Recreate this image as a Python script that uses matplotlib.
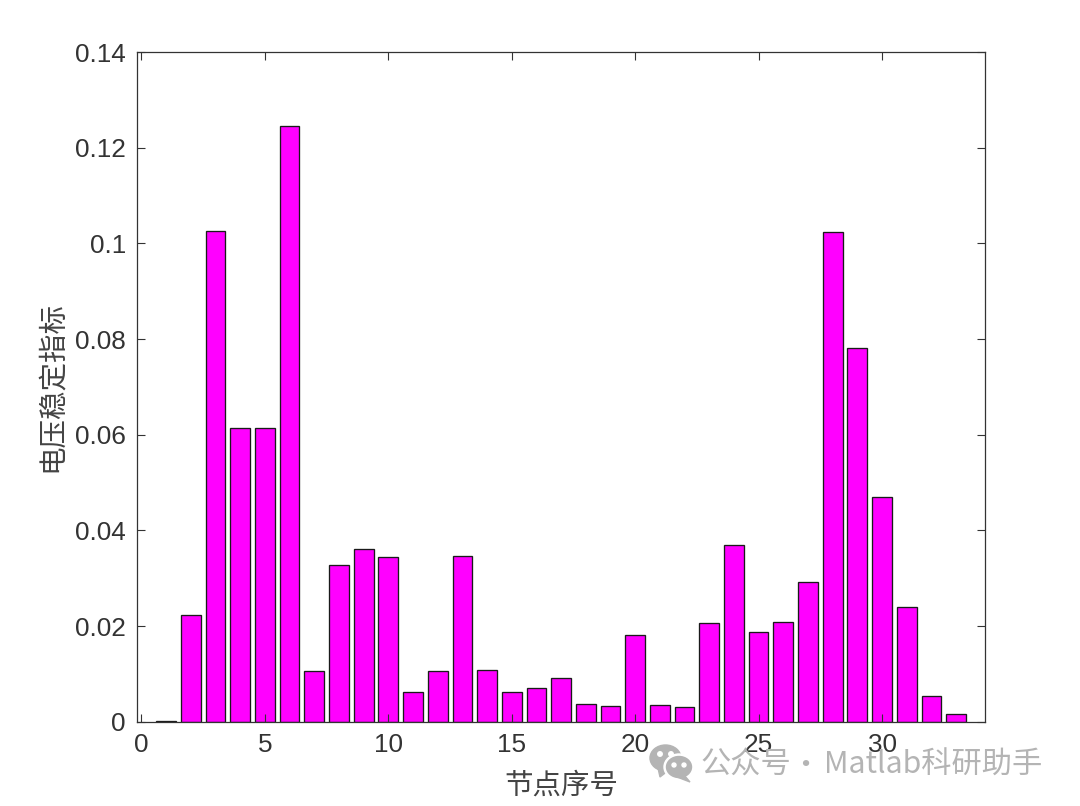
import matplotlib
matplotlib.use("Agg")
import matplotlib.pyplot as plt
from matplotlib.patches import Ellipse, Polygon

node_ids = list(range(1, 34))
stability_index = [
    0.0002, 0.0223, 0.1026, 0.0614, 0.0614, 0.1246, 0.0107, 0.0328, 0.0361,
    0.0344, 0.0063, 0.0105, 0.0347, 0.0109, 0.0063, 0.0071, 0.0091, 0.0036,
    0.0032, 0.0181, 0.0034, 0.0030, 0.0206, 0.0369, 0.0187, 0.0208, 0.0293,
    0.1023, 0.0782, 0.0469, 0.0239, 0.0053, 0.0016,
]
x_ticks = [0, 5, 10, 15, 20, 25, 30]
y_ticks = [0, 0.02, 0.04, 0.06, 0.08, 0.1, 0.12, 0.14]
y_tick_labels = ["0", "0.02", "0.04", "0.06", "0.08", "0.1", "0.12", "0.14"]

W, H = 1080, 806
plt.rcParams["font.family"] = ["Liberation Sans", "Noto Sans CJK SC", "DejaVu Sans"]
cjk = ["Noto Sans CJK SC", "DejaVu Sans"]

fig = plt.figure(figsize=(W / 100, H / 100), dpi=100)
ax = fig.add_axes([137 / W, 1 - 721.7 / H, (985 - 137) / W, (721.7 - 52) / H])

ax.bar(node_ids, stability_index, width=0.8, color="#ff00ff", edgecolor="#1a1a1a", linewidth=0.95)
ax.set_xlim(-0.18, 34.17)
ax.set_ylim(0, 0.14)
ax.set_xticks(x_ticks)
ax.set_yticks(y_ticks)
ax.set_yticklabels(y_tick_labels)
ax.tick_params(direction="in", top=True, right=True, length=5.8, width=0.8,
               color="#333333", labelsize=18.8, labelcolor="#333333")
ax.tick_params(axis="x", pad=8)
ax.tick_params(axis="y", pad=8)
for spine in ax.spines.values():
    spine.set_linewidth(0.9)
    spine.set_color("#333333")
ax.set_axisbelow(False)

# labels sit at fixed pixel spots, same as the picture
fig.text(561 / W, 1 - 786 / H, "节点序号", fontsize=20.5, color="#444444",
         ha="center", va="center", family=cjk)
fig.text(52 / W, 1 - 386 / H, "电压稳定指标", fontsize=20.5, color="#444444", rotation=90,
         ha="center", va="center", family=cjk)

# ── watermark overlay, in pixel coordinates ──
over = fig.add_axes([0, 0, 1, 1], facecolor="none")
over.set_xlim(0, W)
over.set_ylim(H, 0)
over.axis("off")
grey = "#b4b4b4"
over.add_patch(Ellipse((665.5, 758), 31, 26, color=grey))
over.add_patch(Polygon([(658, 768), (660, 777), (669, 770)], color=grey))
over.add_patch(Ellipse((679, 767), 30, 26, color="white"))
over.add_patch(Ellipse((679, 767), 25, 21, color=grey))
over.add_patch(Polygon([(684, 775), (690, 782), (677, 777)], color=grey))
for cx, cy in [(660, 754), (671, 754)]:
    over.add_patch(Ellipse((cx, cy), 4.5, 4.5, color="white"))
for cx, cy in [(674, 765), (684, 765)]:
    over.add_patch(Ellipse((cx, cy), 4, 4, color="white"))
over.text(700, 765, "公众号", fontsize=21.8, color=grey, va="center", ha="left", family=cjk)
over.text(805, 765, "·", fontsize=21.8, color=grey, va="center", ha="center", family=cjk)
over.text(824, 765, "Matlab科研助手", fontsize=21.8, color=grey, va="center", ha="left", family=cjk)

fig.savefig("out.png", dpi=100)
